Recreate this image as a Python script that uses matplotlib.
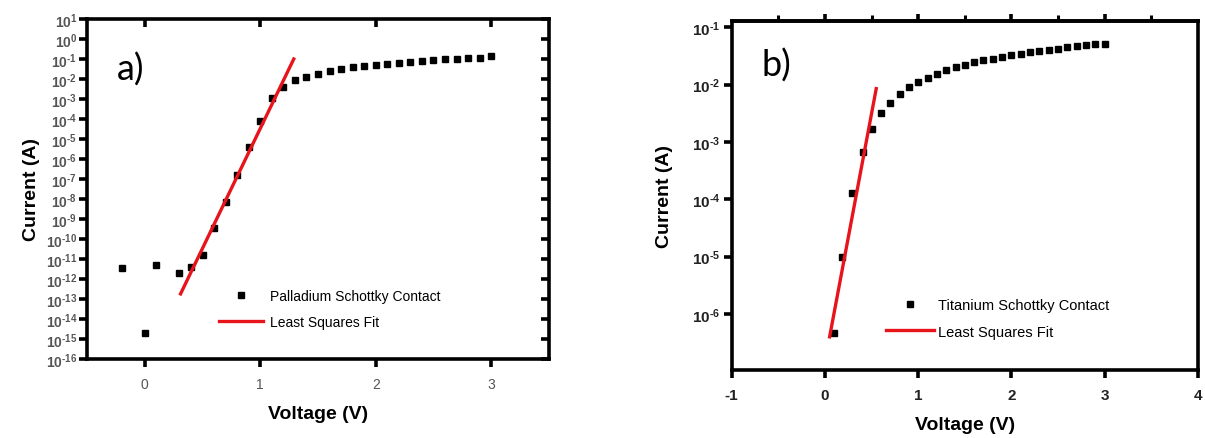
import numpy as np
import matplotlib

matplotlib.use("Agg")
import matplotlib.pyplot as plt
from matplotlib.ticker import FixedLocator, NullLocator, FuncFormatter

plt.rcParams["font.family"] = ["Liberation Sans", "DejaVu Sans"]
plt.rcParams["mathtext.fontset"] = "custom"
plt.rcParams["mathtext.rm"] = "Liberation Sans:bold"
plt.rcParams["mathtext.bf"] = "Liberation Sans:bold"
plt.rcParams["mathtext.default"] = "bf"
plt.rcParams["axes.unicode_minus"] = False

# ── panel a) Palladium contact
pd_voltage = [-0.2, 0.0, 0.1, 0.3, 0.4, 0.5, 0.6, 0.7, 0.8, 0.9, 1.0, 1.1,
              1.2, 1.3, 1.4, 1.5, 1.6, 1.7, 1.8, 1.9, 2.0, 2.1, 2.2, 2.3,
              2.4, 2.5, 2.6, 2.7, 2.8, 2.9, 3.0]
pd_current = [3.5e-12, 2.0e-15, 5.0e-12, 2.1e-12, 4.2e-12, 1.6e-11, 3.4e-10,
              6.8e-9, 1.6e-7, 4.0e-6, 7.6e-5, 1.1e-3, 4.0e-3, 9.0e-3,
              1.3e-2, 1.8e-2, 2.5e-2, 3.3e-2, 4.0e-2, 4.5e-2, 5.0e-2,
              5.4e-2, 6.3e-2, 6.8e-2, 7.9e-2, 8.5e-2, 9.5e-2, 1.05e-1,
              1.07e-1, 1.17e-1, 1.35e-1]
pd_fit_v = [0.31, 1.29]
pd_fit_i = [1.8e-13, 1.0e-1]

# ── panel b) Titanium contact
ti_voltage = [0.1, 0.18, 0.29, 0.41, 0.5, 0.6, 0.7, 0.8, 0.9, 1.0, 1.1, 1.2,
              1.3, 1.4, 1.5, 1.6, 1.7, 1.8, 1.9, 2.0, 2.1, 2.2, 2.3, 2.4,
              2.5, 2.6, 2.7, 2.8, 2.9, 3.0]
ti_current = [4.6e-7, 9.8e-6, 1.3e-4, 6.7e-4, 1.7e-3, 3.2e-3, 4.8e-3,
              6.8e-3, 9.0e-3, 1.1e-2, 1.3e-2, 1.55e-2, 1.8e-2, 2.05e-2,
              2.2e-2, 2.5e-2, 2.65e-2, 2.8e-2, 3.0e-2, 3.25e-2, 3.45e-2,
              3.7e-2, 3.8e-2, 4.0e-2, 4.1e-2, 4.55e-2, 4.7e-2, 4.9e-2,
              5.1e-2, 5.1e-2]
ti_fit_v = [0.05, 0.55]
ti_fit_i = [4.0e-7, 8.5e-3]


def pow_label(val, pos):
    # short hyphen-style minus in the exponent, like the original figure
    e = int(round(np.log10(val)))
    sign = r"\text{-}" if e < 0 else ""
    return r"$\mathbf{10^{%s%d}}$" % (sign, abs(e))


def style_spines(ax):
    for s in ax.spines.values():
        s.set_linewidth(2.6)


fig = plt.figure(figsize=(12.05, 4.39), dpi=100)

# ---------------- panel a
ax1 = fig.add_axes([0.0722, 0.180, 0.3834, 0.7744])
ax1.set_yscale("log")
ax1.plot(pd_voltage, pd_current, "s", color="black", ms=4,
         label="Palladium Schottky Contact")
ax1.plot(pd_fit_v, pd_fit_i, "-", color="#e8141c", lw=2.4,
         label="Least Squares Fit")
ax1.set_xlim(-0.5, 3.5)
ax1.set_ylim(1e-16, 1e1)
ax1.xaxis.set_major_locator(FixedLocator([0, 1, 2, 3]))
ax1.yaxis.set_major_locator(FixedLocator([10.0 ** e for e in range(-16, 2)]))
ax1.yaxis.set_minor_locator(NullLocator())
ax1.yaxis.set_major_formatter(FuncFormatter(pow_label))
ax1.tick_params(axis="both", which="major", direction="out", length=6,
                width=2.6, labelsize=10, labelcolor="#555555")
ax1.tick_params(axis="x", pad=7, labelsize=10)
ax1.tick_params(axis="y", pad=1)
ax1.tick_params(top=True, right=True, labeltop=False, labelright=False)
style_spines(ax1)
ax1.set_xlabel("Voltage (V)", fontsize=14, fontweight="bold", labelpad=10)
ax1.set_ylabel("Current (A)", fontsize=14, fontweight="bold", labelpad=4)
ax1.text(0.065, 0.855, "a)", transform=ax1.transAxes, fontsize=26,
         family="Lato", va="center")
ax1.legend(loc="upper left", bbox_to_anchor=(0.285, 0.205), frameon=False,
           fontsize=10, handlelength=3.2, handletextpad=0.5,
           labelspacing=0.85, borderpad=0, borderaxespad=0)
# inward ticks on mirrored sides
for t in ax1.xaxis.get_major_ticks():
    t.tick2line.set_marker(3)
for t in ax1.yaxis.get_major_ticks():
    t.tick2line.set_marker(0)

# ---------------- panel b
ax2 = fig.add_axes([0.6072, 0.1556, 0.387, 0.795])
ax2.set_yscale("log")
ax2.plot(ti_voltage, ti_current, "s", color="black", ms=4,
         label="Titanium Schottky Contact")
ax2.plot(ti_fit_v, ti_fit_i, "-", color="#e8141c", lw=2.4,
         label="Least Squares Fit")
ax2.set_xlim(-1, 4)
ax2.set_ylim(1.07e-7, 1.3e-1)
ax2.xaxis.set_major_locator(FixedLocator([-1, 0, 1, 2, 3, 4]))
ax2.yaxis.set_major_locator(FixedLocator([10.0 ** e for e in range(-6, 0)]))
ax2.yaxis.set_minor_locator(NullLocator())
ax2.yaxis.set_major_formatter(FuncFormatter(pow_label))
ax2.tick_params(axis="both", which="major", direction="out", length=6,
                width=2.6, labelsize=11, labelcolor="#222222")
ax2.tick_params(axis="x", pad=7, labelsize=11)
ax2.tick_params(axis="y", pad=2)
for lab in ax2.get_xticklabels():
    lab.set_fontweight("bold")
style_spines(ax2)
ax2.set_xlabel("Voltage (V)", fontsize=14, fontweight="bold", labelpad=10)
ax2.set_ylabel("Current (A)", fontsize=14, fontweight="bold", labelpad=14)
ax2.text(0.065, 0.875, "b)", transform=ax2.transAxes, fontsize=26,
         family="Lato", va="center")
ax2.legend(loc="upper left", bbox_to_anchor=(0.33, 0.205), frameon=False,
           fontsize=10.5, handlelength=3.3, handletextpad=0.3,
           labelspacing=0.85, borderpad=0, borderaxespad=0)

# top axis of panel b: outward ticks every 0.5 V
top = ax2.secondary_xaxis("top")
top.xaxis.set_major_locator(FixedLocator([0, 1, 2, 3]))
top.xaxis.set_minor_locator(FixedLocator([-0.5, 0.5, 1.5, 2.5, 3.5]))
top.tick_params(which="major", direction="out", length=5, width=2.6,
                labeltop=False)
top.tick_params(which="minor", direction="out", length=4, width=2.2)
top.spines["top"].set_linewidth(2.6)

fig.savefig("out.png", dpi=100)
